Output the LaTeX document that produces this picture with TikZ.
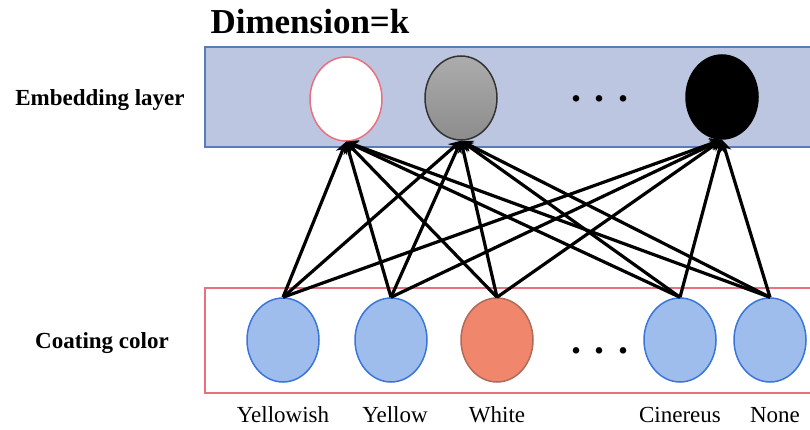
\documentclass[tikz,border=0pt]{standalone}
\usepackage{fontspec}
\setmainfont{Liberation Serif}
\usetikzlibrary{shapes.geometric,arrows.meta}
\definecolor{layerblue}{HTML}{BCC6E0}
\definecolor{layeredge}{HTML}{5A7AB8}
\definecolor{boxred}{HTML}{E8707F}
\definecolor{catfill}{HTML}{9EBDEC}
\definecolor{catedge}{HTML}{3A75D8}
\definecolor{hotfill}{HTML}{F0876D}
\definecolor{hotedge}{HTML}{B06A58}
\tikzset{
  vec/.style={ellipse,draw,line width=1.5pt,minimum width=72pt,minimum height=84pt,inner sep=0pt},
  cat/.style={vec,fill=catfill,draw=catedge},
  lab/.style={font=\fontsize{23}{24}\selectfont},
  side/.style={font=\fontsize{23}{26}\selectfont\bfseries},
  more/.style={font=\fontsize{40}{40}\selectfont\bfseries},
  link/.style={line width=3.2pt,-{Stealth[length=12pt,width=12pt]}}
}
\begin{document}
\begin{tikzpicture}[x=1pt,y=-1pt]
                \useasboundingbox (0,0) rectangle (810,430);
                \node[draw=layeredge,fill=layerblue,line width=1.5pt,minimum width=610pt,minimum height=100pt] (emb) at (510,97) {};
                \node[draw=boxred,line width=1.5pt,minimum width=610pt,minimum height=105pt] (col) at (510,340.5) {};

                \node[anchor=west,font=\fontsize{35}{36}\selectfont\bfseries] (dim) at (207,22) {Dimension=k};
                \node[side] (embl) at (100,100) {Embedding layer};
                \node[side] (coll) at (102,343) {Coating color};

                \node[vec,fill=white,draw=boxred] (e1) at (346,99) {};
                \node[vec,top color=gray!65,bottom color=gray!90,draw=black!80] (e2) at (461,98) {};
                \node[more] (edots) at (600,99) {. . .};
                \node[vec,fill=black,draw=black] (e3) at (722,97) {};

                \node[cat] (c1) at (283,340) {};
                \node[cat] (c2) at (391,340) {};
                \node[vec,fill=hotfill,draw=hotedge] (c3) at (497,340) {};
                \node[more] (cdots) at (600,351) {. . .};
                \node[cat] (c4) at (680,340) {};
                \node[cat] (c5) at (770,340) {};

                \node[lab] (l1) at (283,415) {Yellowish};
                \node[lab] (l2) at (395,415) {Yellow};
                \node[lab] (l3) at (497,415) {White};
                \node[lab] (l4) at (680,415) {Cinereus};
                \node[lab] (l5) at (775,415) {None};

                \draw[link] (c1.north) -- (e1.south);
                \draw[link] (c1.north) -- (e2.south);
                \draw[link] (c1.north) -- (e3.south);
                \draw[link] (c2.north) -- (e1.south);
                \draw[link] (c2.north) -- (e2.south);
                \draw[link] (c2.north) -- (e3.south);
                \draw[link] (c3.north) -- (e1.south);
                \draw[link] (c3.north) -- (e2.south);
                \draw[link] (c3.north) -- (e3.south);
                \draw[link] (c4.north) -- (e1.south);
                \draw[link] (c4.north) -- (e2.south);
                \draw[link] (c4.north) -- (e3.south);
                \draw[link] (c5.north) -- (e1.south);
                \draw[link] (c5.north) -- (e2.south);
                \draw[link] (c5.north) -- (e3.south);
            \end{tikzpicture}
\end{document}
